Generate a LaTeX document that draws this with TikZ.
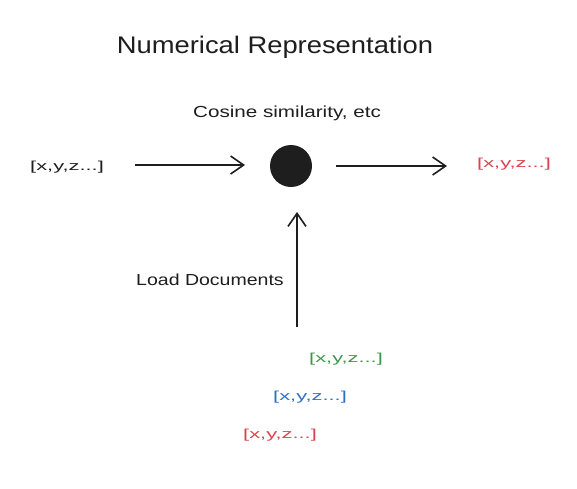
\documentclass[tikz,border=0pt]{standalone}
\usepackage{fontspec}
\usepackage{graphicx}
\setmainfont{Liberation Sans}
\usetikzlibrary{arrows.meta}
\definecolor{ink}{HTML}{1E1E1E}
\definecolor{exred}{HTML}{D9434F}
\definecolor{exgreen}{HTML}{3A9A4A}
\definecolor{exblue}{HTML}{2F6FC4}
\newcommand{\hstretch}[2]{\scalebox{#1}[1]{#2}}
\tikzset{
  lbl/.style={text=ink, inner sep=0pt},
  vec/.style={inner sep=0pt, font=\fontsize{13}{15}\selectfont},
  conn/.style={draw=ink, line width=1.6pt, -{Straight Barb[length=13pt,width=18pt,line width=1.6pt]}},
}
\begin{document}
\begin{tikzpicture}[x=1pt,y=-1pt]
\useasboundingbox[fill=white] (0,0) rectangle (577,488);
\node[lbl, font=\fontsize{24}{28}\selectfont] (title) at (275,47) {\hstretch{1.14}{Numerical Representation}};
\node[lbl, font=\fontsize{16}{19}\selectfont] (cos) at (287,113) {\hstretch{1.29}{Cosine similarity, etc}};
\node[vec, text=ink] (in) at (67,167) {\hstretch{1.68}{[x,y,z...]}};
\node[circle, fill=ink, minimum size=42pt, inner sep=0pt] (dot) at (291,166) {};
\node[vec, text=exred] (out) at (514,164) {\hstretch{1.68}{[x,y,z...]}};
\coordinate (a1s) at (135,165);
\coordinate (a1e) at (245,165);
\coordinate (a2s) at (336,166);
\coordinate (a2e) at (447,166);
\coordinate (vs) at (297,327);
\coordinate (ve) at (297,212);
\draw[conn] (a1s) -- (a1e);
\draw[conn] (a2s) -- (a2e);
\draw[conn] (vs) -- (ve);
\node[lbl, font=\fontsize{16}{19}\selectfont] (load) at (210,280) {\hstretch{1.22}{Load Documents}};
\node[vec, text=exgreen] (d1) at (346,359) {\hstretch{1.68}{[x,y,z...]}};
\node[vec, text=exblue] (d2) at (310,397) {\hstretch{1.68}{[x,y,z...]}};
\node[vec, text=exred] (d3) at (280,435) {\hstretch{1.68}{[x,y,z...]}};
\end{tikzpicture}
\end{document}
